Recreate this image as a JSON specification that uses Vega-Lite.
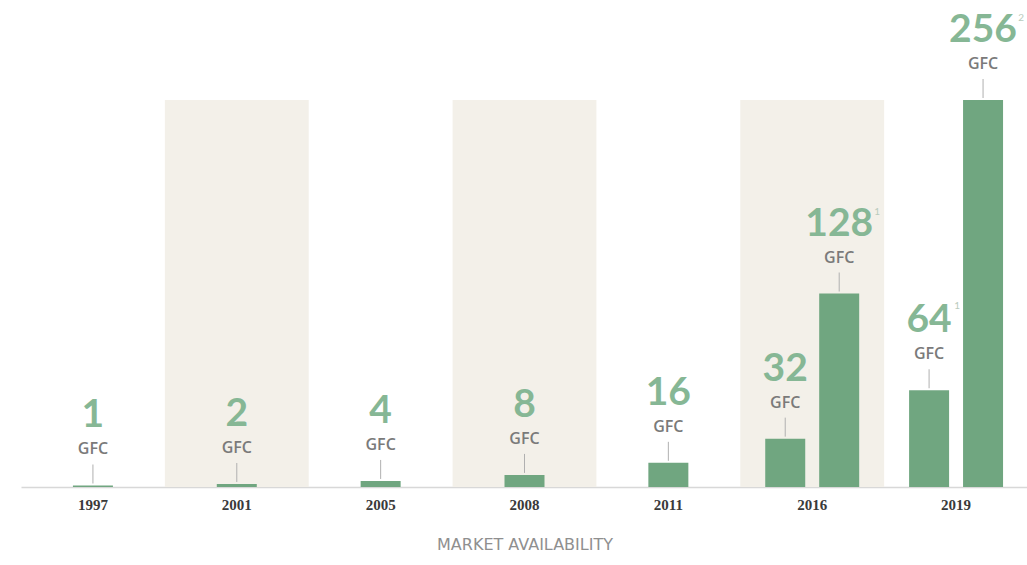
{
  "$schema": "https://vega.github.io/schema/vega-lite/v6.json",
  "width": 1007,
  "height": 387,
  "autosize": "none",
  "padding": {"left": 21, "top": 100, "right": 0, "bottom": 78},
  "background": "white",
  "config": {"view": {"stroke": null}},
  "datasets": {
    "gpu": [
      {"year": "1997", "slot": "center", "gfc": 1, "note": ""},
      {"year": "2001", "slot": "center", "gfc": 2, "note": ""},
      {"year": "2005", "slot": "center", "gfc": 4, "note": ""},
      {"year": "2008", "slot": "center", "gfc": 8, "note": ""},
      {"year": "2011", "slot": "center", "gfc": 16, "note": ""},
      {"year": "2016", "slot": "left", "gfc": 32, "note": ""},
      {"year": "2016", "slot": "right", "gfc": 128, "note": "1"},
      {"year": "2019", "slot": "left", "gfc": 64, "note": "1"},
      {"year": "2019", "slot": "right", "gfc": 256, "note": "2"}
    ],
    "shade": [
      {"year": "2001", "top": 256},
      {"year": "2008", "top": 256},
      {"year": "2016", "top": 256}
    ]
  },
  "encoding": {
    "x": {
      "field": "year",
      "type": "ordinal",
      "scale": {"domain": ["1997", "2001", "2005", "2008", "2011", "2016", "2019"], "paddingInner": 0, "paddingOuter": 0},
      "axis": {
        "title": "MARKET AVAILABILITY",
        "titleFont": "DejaVu Sans",
        "titleFontSize": 16,
        "titleFontWeight": "normal",
        "titleColor": "#8f8f8f",
        "titlePadding": 24,
        "labelFont": "Liberation Serif",
        "labelFontSize": 15,
        "labelFontWeight": "bold",
        "labelColor": "#3a3a3a",
        "labelAngle": 0,
        "labelPadding": 10,
        "ticks": false,
        "domainColor": "#d8d8d8",
        "domainWidth": 1.5
      }
    }
  },
  "layer": [
    {
      "data": {"name": "shade"},
      "mark": {"type": "bar", "color": "#f3f0e9"},
      "encoding": {
        "y": {"field": "top", "type": "quantitative", "scale": {"domain": [0, 256], "nice": false}, "axis": null}
      }
    },
    {
      "data": {"name": "gpu"},
      "encoding": {
        "xOffset": {"field": "slot", "type": "nominal", "scale": {"domain": ["padA", "left", "center", "right", "padB"], "paddingInner": 0, "paddingOuter": 0.166}},
        "y": {"field": "gfc", "type": "quantitative", "scale": {"domain": [0, 256], "nice": false}, "axis": null}
      },
      "layer": [
        {"mark": {"type": "bar", "width": 40, "color": "#70a680"}},
        {"mark": {"type": "rule", "color": "#b0b0b0", "strokeWidth": 1, "yOffset": -2, "y2Offset": -21}, "encoding": {"y2": {"field": "gfc"}}},
        {"mark": {"type": "text", "text": "GFC", "dy": -36, "baseline": "middle", "font": "Open Sans", "fontSize": 16, "fontWeight": 600, "color": "#7a7a7a"}},
        {"mark": {"type": "text", "dy": -70, "baseline": "middle", "font": "Lato", "fontSize": 39, "fontWeight": "bold", "color": "#86b795"}, "encoding": {"text": {"field": "gfc", "type": "quantitative"}}},
        {"transform": [{"filter": "datum.gfc >= 100"}], "mark": {"type": "text", "dx": 38, "dy": -82, "baseline": "middle", "align": "center", "font": "Lato", "fontSize": 10, "color": "#b9cbbd"}, "encoding": {"text": {"field": "note"}}},
        {"transform": [{"filter": "datum.gfc >= 50 && datum.gfc < 100"}], "mark": {"type": "text", "dx": 28, "dy": -84, "baseline": "middle", "align": "center", "font": "Lato", "fontSize": 10, "color": "#b9cbbd"}, "encoding": {"text": {"field": "note"}}}
      ]
    }
  ]
}
